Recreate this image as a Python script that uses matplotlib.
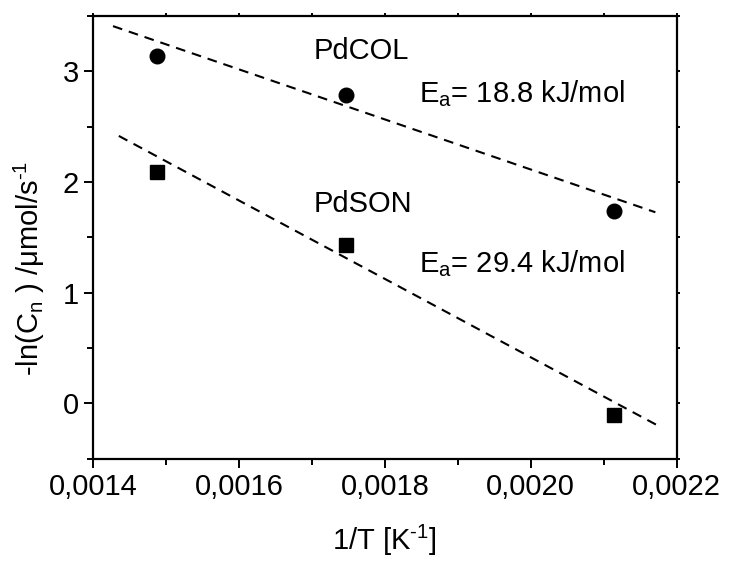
import matplotlib
matplotlib.use("Agg")
import matplotlib.pyplot as plt
from matplotlib.ticker import FixedLocator, MultipleLocator

plt.rcParams['font.family'] = ['Liberation Sans', 'DejaVu Sans']
plt.rcParams['mathtext.fontset'] = 'custom'
plt.rcParams['mathtext.rm'] = 'Liberation Sans'
plt.rcParams['mathtext.it'] = 'Liberation Sans'
plt.rcParams['lines.scale_dashes'] = False
plt.rcParams['axes.unicode_minus'] = False

# data
inv_T = [0.001487, 0.001746, 0.002114]
pdcol = [3.14, 2.78, 1.74]
pdson = [2.09, 1.43, -0.10]

# fitted lines
col_fit_x = [0.001427, 0.002171]
col_fit_y = [3.406, 1.726]
son_fit_x = [0.001435, 0.002176]
son_fit_y = [2.415, -0.205]

xticks = [0.0014, 0.0016, 0.0018, 0.0020, 0.0022]
xtick_labels = ['0,0014', '0,0016', '0,0018', '0,0020', '0,0022']
yticks = [0, 1, 2, 3]
ytick_labels = ['0', '1', '2', '3']

FS = 21

fig = plt.figure(figsize=(7.29, 5.61), dpi=100)
ax = fig.add_axes([0.128, 0.182, 0.800, 0.790])

ax.plot(col_fit_x, col_fit_y, color='black', lw=1.5, dashes=(7, 5))
ax.plot(son_fit_x, son_fit_y, color='black', lw=1.5, dashes=(7, 5))
ax.plot(inv_T, pdcol, 'o', color='black', ms=10.5, mec='black')
ax.plot(inv_T, pdson, 's', color='black', ms=9.5, mec='black')

ax.set_xlim(0.0014, 0.0022)
ax.set_ylim(-0.5, 3.5)
ax.xaxis.set_major_locator(FixedLocator(xticks))
ax.set_xticklabels(xtick_labels)
ax.xaxis.set_minor_locator(MultipleLocator(0.0001))
ax.yaxis.set_major_locator(FixedLocator(yticks))
ax.set_yticklabels(ytick_labels)
ax.yaxis.set_minor_locator(MultipleLocator(0.5))

for s in ax.spines.values():
    s.set_linewidth(1.6)

ax.tick_params(which='major', direction='out', length=6.5, width=1.4,
               labelsize=FS, pad=4)
ax.tick_params(which='minor', direction='out', length=4.3, width=1.4)
ax.tick_params(which='both', top=True, right=True)
for t in ax.xaxis.get_major_ticks() + ax.xaxis.get_minor_ticks():
    t.tick2line.set_markersize(2.5)
for t in ax.yaxis.get_major_ticks() + ax.yaxis.get_minor_ticks():
    t.tick2line.set_markersize(2.5)

ax.set_xlabel(r'1/T [K$^{\text{-1}}$]', fontsize=FS, labelpad=15)
ax.set_ylabel(r'-ln(C$_{\text{n}}$ ) /μmol/s$^{\text{-1}}$', fontsize=FS)
ax.yaxis.set_label_coords(-0.08, 0.43)

ax.text(0.0017026, 3.11, 'PdCOL', fontsize=FS, va='baseline', ha='left')
ax.text(0.0017026, 1.73, 'PdSON', fontsize=FS, va='baseline', ha='left')
ax.text(0.001847, 2.723, r'E$_{\text{a}}$= 18.8 kJ/mol', fontsize=FS, va='baseline', ha='left')
ax.text(0.001847, 1.183, r'E$_{\text{a}}$= 29.4 kJ/mol', fontsize=FS, va='baseline', ha='left')

fig.savefig('out.png', dpi=100)
